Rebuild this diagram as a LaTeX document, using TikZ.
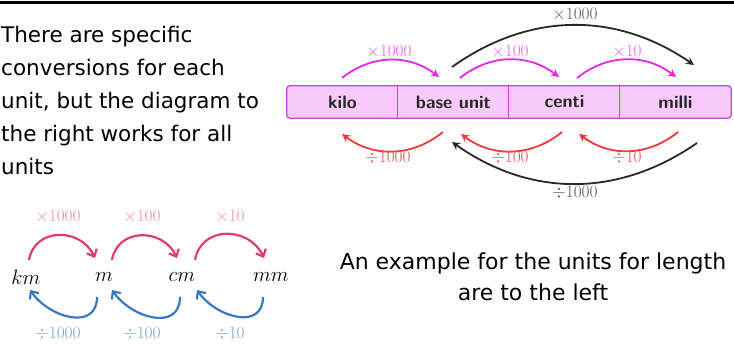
\documentclass[tikz,border=0pt]{standalone}
\usepackage{fontspec}
\newfontfamily\prose{DejaVu Sans}
\usetikzlibrary{arrows.meta}
\definecolor{magarr}{RGB}{228,40,228}
\definecolor{maglab}{RGB}{236,100,236}
\definecolor{redarr}{RGB}{244,56,56}
\definecolor{redlab}{RGB}{242,80,80}
\definecolor{blkarr}{RGB}{40,40,40}
\definecolor{blklab}{RGB}{90,90,90}
\definecolor{boxfill}{RGB}{247,202,250}
\definecolor{boxline}{RGB}{196,70,210}
\definecolor{pinkarr}{RGB}{226,60,110}
\definecolor{pinklab}{RGB}{240,140,165}
\definecolor{bluearr}{RGB}{58,118,196}
\definecolor{bluelab}{RGB}{125,160,212}
\begin{document}
\begin{tikzpicture}[x=1pt,y=1pt,
  cell/.style={fill=boxfill, minimum width=111pt, minimum height=32pt, inner sep=0pt,
    font=\sffamily\bfseries\fontsize{18}{20}\selectfont, text=black!85},
  arc/.style={line width=1.8pt, -{Stealth[length=8pt,width=8pt]}},
  exarc/.style={line width=2.2pt, -{Straight Barb[length=6pt,width=11pt,line width=2.2pt]}},
  lab/.style={inner sep=0pt, font=\fontsize{18}{20}\selectfont},
  unitlab/.style={inner sep=0pt, font=\fontsize{22}{24}\selectfont},
  prosetext/.style={inner sep=0pt, font=\prose\fontsize{21.5}{33}\selectfont}
]
\useasboundingbox (0,0) rectangle (734,344);
\draw[line width=3pt] (0,341) -- (734,341);

% left text
\node[prosetext, anchor=north west, align=left] (intro) at (1,318)
  {There are specific\\conversions for each\\unit, but the diagram to\\the right works for all\\units};

% right text
\node[prosetext, align=center, font=\prose\fontsize{22}{31}\selectfont] (example) at (533,67)
  {An example for the units for length\\are to the left};

% unit strip
\node[cell] (kilo)  at (342.5,242) {kilo};
\node[cell] (base)  at (453.5,242) {base unit};
\node[cell] (centi) at (564.5,242) {centi};
\node[cell] (milli) at (675.5,242) {milli};
\draw[boxline, line width=1.2pt, rounded corners=3pt] (kilo.south west) rectangle (milli.north east);
\foreach \n in {base,centi,milli}
  \draw[boxline, line width=1.2pt] (\n.north west) -- (\n.south west);

% upper magenta arcs
\coordinate (m1s) at (342,266); \coordinate (m1e) at (439,267);
\coordinate (m2s) at (460,266); \coordinate (m2e) at (559,267);
\coordinate (m3s) at (577,266); \coordinate (m3e) at (676,267);
\draw[arc, magarr] (m1s) to[bend left=38] (m1e);
\draw[arc, magarr] (m2s) to[bend left=38] (m2e);
\draw[arc, magarr] (m3s) to[bend left=38] (m3e);
\node[lab, text=maglab] (lm1) at (389,292) {$\times1000$};
\node[lab, text=maglab] (lm2) at (510,292) {$\times100$};
\node[lab, text=maglab] (lm3) at (627,292) {$\times10$};

% black top arc
\coordinate (bts) at (452,277); \coordinate (bte) at (694,279);
\draw[arc, blkarr] (bts) to[bend left=35] (bte);
\node[lab, text=blklab] (lbt) at (575,329) {$\times1000$};

% lower red arcs
\coordinate (r1s) at (443,212); \coordinate (r1e) at (342,210);
\coordinate (r2s) at (562,212); \coordinate (r2e) at (461,210);
\coordinate (r3s) at (678,212); \coordinate (r3e) at (579,210);
\draw[arc, redarr] (r1s) to[bend left=38] (r1e);
\draw[arc, redarr] (r2s) to[bend left=38] (r2e);
\draw[arc, redarr] (r3s) to[bend left=38] (r3e);
\node[lab, text=redlab] (lr1) at (388,186) {$\div1000$};
\node[lab, text=redlab] (lr2) at (510,186) {$\div100$};
\node[lab, text=redlab] (lr3) at (627,186) {$\div10$};

% black bottom arc
\coordinate (bbs) at (697,201); \coordinate (bbe) at (452,202);
\draw[arc, blkarr] (bbs) to[bend left=35] (bbe);
\node[lab, text=blklab] (lbb) at (575,151) {$\div1000$};

% example (length units)
\node[unitlab] (km) at (26,67) {$km$};
\node[unitlab] (m)  at (104,67) {$m$};
\node[unitlab] (cm) at (182,67) {$cm$};
\node[unitlab] (mm) at (271,67) {$mm$};
\coordinate (p1s) at (29,84);  \coordinate (p1e) at (95,86);
\coordinate (p2s) at (112,84); \coordinate (p2e) at (177,86);
\coordinate (p3s) at (195,84); \coordinate (p3e) at (264,86);
\draw[exarc, pinkarr] (p1s) to[out=80,in=115,looseness=1.3] (p1e);
\draw[exarc, pinkarr] (p2s) to[out=80,in=115,looseness=1.3] (p2e);
\draw[exarc, pinkarr] (p3s) to[out=80,in=115,looseness=1.3] (p3e);
\node[lab, text=pinklab] (lp1) at (58,127) {$\times1000$};
\node[lab, text=pinklab] (lp2) at (142,127) {$\times100$};
\node[lab, text=pinklab] (lp3) at (230,127) {$\times10$};
\coordinate (b1s) at (97,47);  \coordinate (b1e) at (30,54);
\coordinate (b2s) at (180,47); \coordinate (b2e) at (112,54);
\coordinate (b3s) at (263,47); \coordinate (b3e) at (197,54);
\draw[exarc, bluearr] (b1s) to[out=-90,in=-55,looseness=1.3] (b1e);
\draw[exarc, bluearr] (b2s) to[out=-90,in=-55,looseness=1.3] (b2e);
\draw[exarc, bluearr] (b3s) to[out=-90,in=-55,looseness=1.3] (b3e);
\node[lab, text=bluelab] (lb1) at (58,10) {$\div1000$};
\node[lab, text=bluelab] (lb2) at (142,10) {$\div100$};
\node[lab, text=bluelab] (lb3) at (230,10) {$\div10$};
\end{tikzpicture}
\end{document}
